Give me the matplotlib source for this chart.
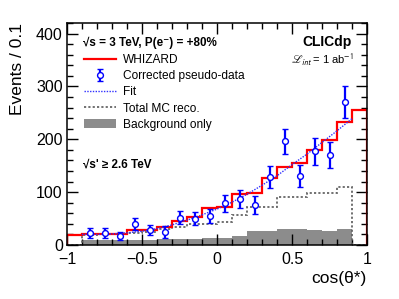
import numpy as np
import matplotlib
matplotlib.use("Agg")
import matplotlib.pyplot as plt
from matplotlib.patches import Patch
from matplotlib.ticker import MultipleLocator

plt.rcParams['font.family'] = ['Liberation Sans', 'DejaVu Sans']

# ---- data ----
bin_edges = np.round(np.arange(-1.0, 1.0001, 0.1), 2)
whizard = [19, 20, 21, 21, 28, 28, 34, 45, 53, 70, 72, 96, 98, 126, 147, 155, 179, 198, 232, 256]
total_mc = [0, 18, 20, 21, 23, 24, 30, 35, 39, 39, 44, 57, 72, 72, 91, 91, 98, 98, 110, 0]
background = [0, 9, 9, 9, 10, 10, 12, 12, 12, 14, 14, 17, 26, 27, 30, 30, 28, 27, 31, 0]

data_x = [-0.85, -0.75, -0.65, -0.55, -0.45, -0.35, -0.25, -0.15, -0.05,
          0.05, 0.15, 0.25, 0.35, 0.45, 0.55, 0.65, 0.75, 0.85]
data_y = [23, 23, 17, 40, 28, 25, 52, 50, 55, 79, 87, 75, 128, 196, 131, 177, 170, 270]
data_err = [10, 10, 7, 12, 10, 11, 12, 12, 14, 16, 17, 17, 21, 24, 21, 25, 25, 30]

fit_x = [-0.9, -0.8, -0.7, -0.6, -0.5, -0.4, -0.3, -0.2, -0.1, 0.0,
         0.1, 0.2, 0.3, 0.4, 0.5, 0.6, 0.7, 0.8, 0.9]
fit_y = [20, 20, 21, 23, 26, 31, 38, 47, 57, 68, 81, 96, 113, 131, 152, 172, 194, 216, 239]

xticks = [-1, -0.5, 0, 0.5, 1]
xtick_labels = ['\u22121', '\u22120.5', '0', '0.5', '1']
yticks = [0, 100, 200, 300, 400]

# ---- figure ----
fig = plt.figure(figsize=(3.99, 2.99), dpi=100)
W, H = 399, 299
ax = fig.add_axes([67 / W, (299 - 245) / H, 300 / W, 222 / H])

ax.stairs(background, bin_edges, fill=True, color='#8c8c8c', lw=0, zorder=1)
ax.stairs(total_mc, bin_edges, baseline=0, color='#666666', ls=(0, (1.2, 1.2)), lw=1.3, zorder=2)
ax.stairs(whizard, bin_edges, baseline=0, color='#ff0000', lw=1.6, zorder=3)
ax.plot(fit_x, fit_y, color='#3030ff', ls=(0, (1, 1)), lw=1.0, zorder=4)
eb = ax.errorbar(data_x, data_y, yerr=data_err, fmt='o', ms=4.2, mfc='white', mec='#0000ff',
                 mew=1.0, ecolor='#0000ff', elinewidth=1.6, capsize=2.2, capthick=1.6, zorder=5)

ax.set_xlim(-1, 1)
ax.set_ylim(0, 420)
ax.set_xticks(xticks)
ax.set_xticklabels(xtick_labels)
ax.set_yticks(yticks)
ax.xaxis.set_minor_locator(MultipleLocator(0.1))
ax.yaxis.set_minor_locator(MultipleLocator(20))
ax.tick_params(which='both', direction='in', top=True, right=True, width=1.0, labelsize=11.5)
ax.tick_params(which='major', length=8)
ax.tick_params(which='minor', length=4)
ax.tick_params(axis='x', pad=5)
ax.tick_params(axis='y', pad=3)
for s in ax.spines.values():
    s.set_linewidth(1.1)
    s.set_zorder(10)

ax.set_ylabel('Events / 0.1', fontsize=12.5, loc='top', labelpad=8)
ax.set_xlabel('cos(\u03b8*)', fontsize=12.5, loc='right', labelpad=3)

# ---- texts ----
ax.text(0.053, 0.91, '\u221as = 3 TeV, P(e\u207b) = +80%', transform=ax.transAxes,
        fontsize=8.4, fontweight='bold', va='center', ha='left')
ax.text(0.95, 0.914, 'CLICdp', transform=ax.transAxes, fontsize=10, fontweight='bold',
        va='center', ha='right')
ax.text(0.957, 0.833, r'$\mathscr{L}_{\mathsf{int}}$ = 1 ab$^{\mathsf{-1}}$', transform=ax.transAxes,
        fontsize=8, va='center', ha='right', math_fontfamily='stixsans')
ax.text(0.053, 0.36, "\u221as' \u2265 2.6 TeV", transform=ax.transAxes,
        fontsize=8.4, fontweight='bold', va='center', ha='left')

# ---- legend ----
handles = [
    plt.Line2D([], [], color='#ff0000', lw=1.6),
    eb,
    plt.Line2D([], [], color='#3030ff', ls=(0, (1, 1)), lw=1.0),
    plt.Line2D([], [], color='#666666', ls=(0, (1.2, 1.2)), lw=1.3),
    Patch(facecolor='#8c8c8c', edgecolor='none'),
]
labels = ['WHIZARD', 'Corrected pseudo-data', 'Fit', 'Total MC reco.', 'Background only']
leg = ax.legend(handles, labels, loc='upper left', bbox_to_anchor=((84 - 67) / 300, (245 - 54) / 222),
                frameon=False, fontsize=8.6, handlelength=2.7, handletextpad=0.55,
                labelspacing=0.35, borderpad=0, borderaxespad=0, handleheight=0.8)

fig.savefig('out.png', dpi=100)
